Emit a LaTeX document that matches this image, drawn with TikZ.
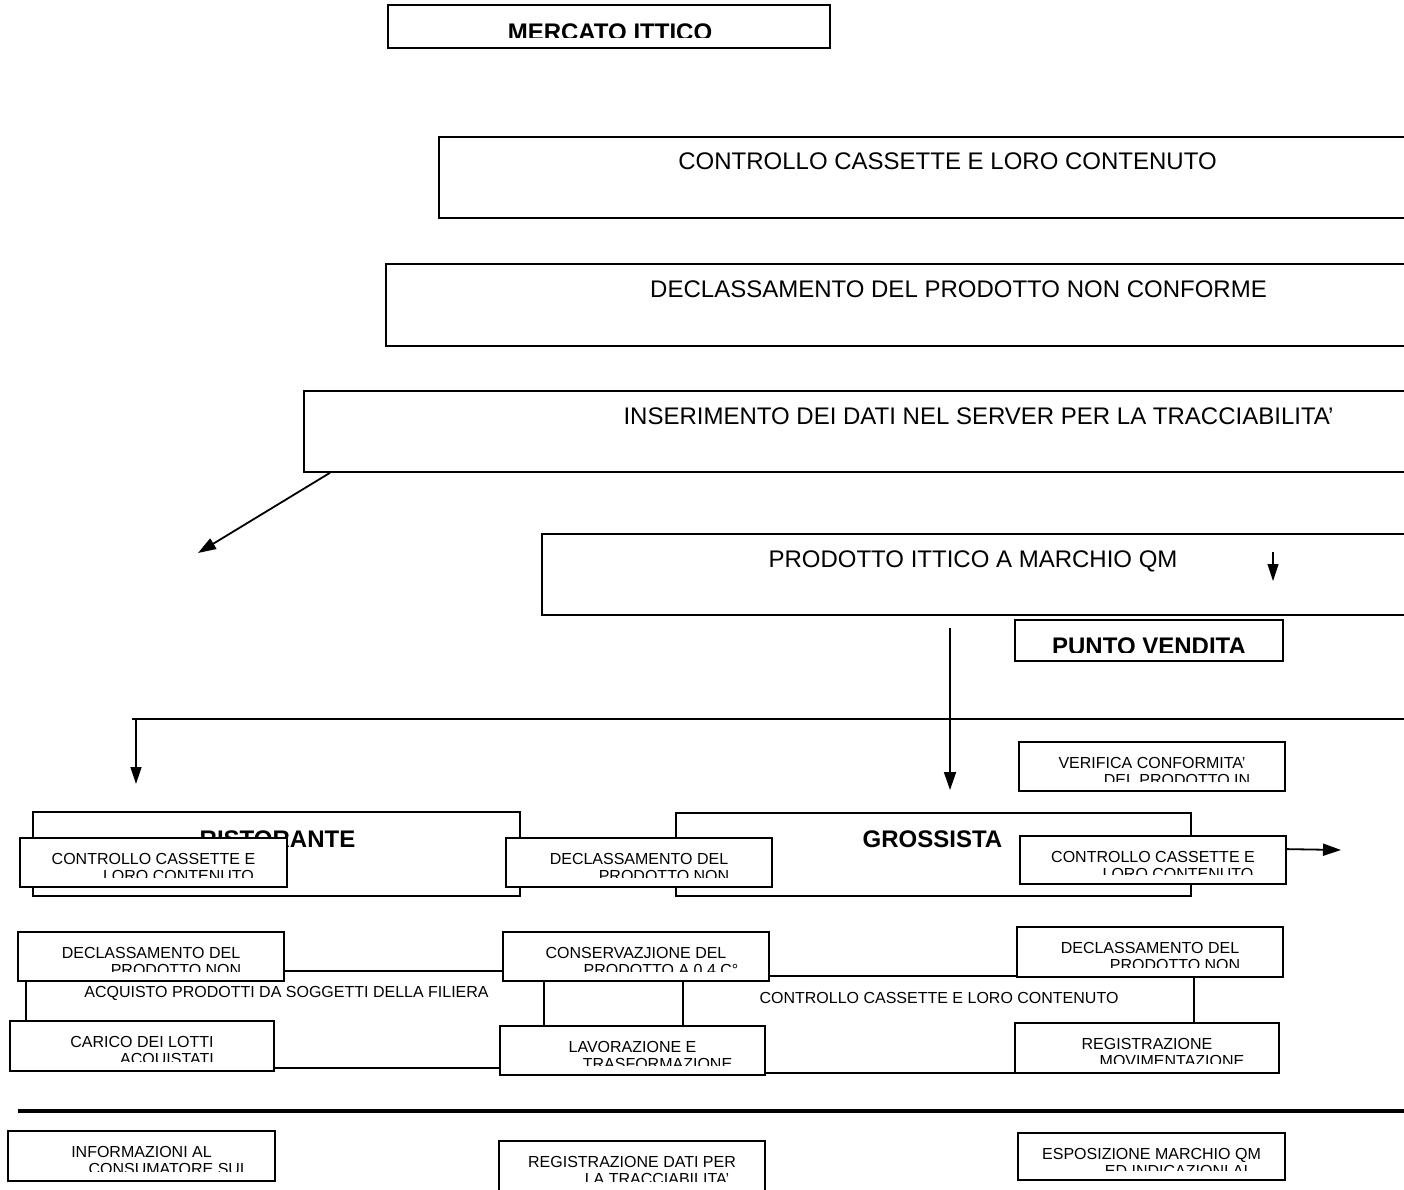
\documentclass[tikz,border=0pt]{standalone}
\usepackage{fontspec}
\setmainfont{Liberation Sans}
\usetikzlibrary{arrows.meta,calc}
\tikzset{
 bigbox/.style={draw, line width=1.8pt, fill=white, inner sep=0pt, anchor=north west},
 boxst/.style={draw, line width=1.8pt, fill=white, inner sep=0pt},
 bigtxt/.style={anchor=base, inner sep=0pt, font=\fontsize{24}{28}\selectfont},
 boldtxt/.style={anchor=base, inner sep=0pt, font=\fontsize{24}{28}\selectfont\bfseries},
 smtxt/.style={anchor=base, inner sep=0pt, font=\fontsize{16}{19}\selectfont},
 conn/.style={line width=1.8pt},
 arr/.style={line width=1.8pt, -{Triangle[length=18pt,width=12pt]}},
 thinarr/.style={line width=1.3pt, -{Triangle[length=17pt,width=11pt]}},
}
% name, x1, y1, x2, y2, line1, line2
\newcommand{\mybox}[7]{%
 \node[boxst, minimum width={(#4)-(#2)}, minimum height={(#5)-(#3)}] (#1) at ({((#2)+(#4))/2},{((#3)+(#5))/2}) {};
 \begin{scope}
 \clip (#2,#3) rectangle (#4,{(#5)-10});
 \node[smtxt] (#1a) at ({((#2)+(#4))/2},{(#3)+26.5}) {#6};
 \node[smtxt] (#1b) at ({((#2)+(#4))/2+25},{(#3)+43.5}) {#7};
 \end{scope}}
\begin{document}
\begin{tikzpicture}[x=1pt,y=-1pt]
\path[use as bounding box, clip] (0,0) rectangle (1404,1189);
\fill[white] (0,0) rectangle (1404,1189);

% MERCATO ITTICO
\node[boxst, minimum width=442, minimum height=43] (mer) at (609,26.5) {};
\begin{scope}
 \clip (388,5) rectangle (830,37.5);
 \node[boldtxt] (mert) at (610,40) {MERCATO ITTICO};
\end{scope}

% large open boxes
\node[bigbox, minimum width=972, minimum height=81] (cc) at (438,136) {};
\node[bigtxt] (cct) at (947.5,169) {CONTROLLO CASSETTE E LORO CONTENUTO};
\node[bigbox, minimum width=1025, minimum height=82] (dec) at (385,263) {};
\node[bigtxt] (dect) at (958.5,297) {DECLASSAMENTO DEL PRODOTTO NON CONFORME};
\node[bigbox, minimum width=1107, minimum height=81] (ins) at (303,390) {};
\node[bigtxt] (inst) at (978.5,424) {INSERIMENTO DEI DATI NEL SERVER PER LA TRACCIABILITA'};
\node[bigbox, minimum width=869, minimum height=81] (prod) at (541,533) {};
\node[bigtxt] (prodt) at (973,567) {PRODOTTO ITTICO A MARCHIO QM};

% diagonal arrow
\coordinate (diagtip) at (198,553);
\draw[arr] ($(ins.south west)+(27,0)$) -- (diagtip);

% small arrow
\coordinate (sa1) at (1273,552);
\coordinate (sa2) at (1273,581);
\draw[thinarr] (sa1) -- (sa2);

% PUNTO VENDITA
\node[boxst, minimum width=268, minimum height=41] (pv) at (1149,640.5) {};
\begin{scope}
 \clip (1015,620) rectangle (1283,652);
 \node[boldtxt] (pvt) at (1149,654) {PUNTO VENDITA};
\end{scope}

% horizontal line and arrows
\coordinate (hl1) at (132,719);
\coordinate (hl2) at (1404,719);
\draw[conn] (hl1) -- (hl2);
\coordinate (la1) at (136,719);
\coordinate (la2) at (136,784);
\draw[thinarr] (la1) -- (la2);
\coordinate (va1) at (950,628);
\coordinate (va2) at (950,790);
\draw[arr] (va1) -- (va2);

% VERIFICA
\mybox{ver}{1019}{742}{1285}{791}{VERIFICA CONFORMITA'}{DEL PRODOTTO IN}

% RISTORANTE / GROSSISTA
\node[boxst, minimum width=487, minimum height=84] (rist) at (276.5,854) {};
\node[boldtxt] (ristt) at (277.5,847) {RISTORANTE};
\node[boxst, minimum width=515, minimum height=83] (gros) at (933.5,854.5) {};
\node[boldtxt] (grost) at (932.5,847) {GROSSISTA};

% row A
\mybox{ccL}{20}{838}{287}{887}{CONTROLLO CASSETTE E}{LORO CONTENUTO}
\mybox{dM}{506}{838}{772}{887}{DECLASSAMENTO DEL}{PRODOTTO NON}
\mybox{ccR}{1020}{836}{1286}{884}{CONTROLLO CASSETTE E}{LORO CONTENUTO}
\coordinate (raTip) at (1341,850);
\draw[arr] ($(ccR.north east)+(0,14)$) -- (raTip);

% row B
\mybox{dL}{18}{932}{284}{981}{DECLASSAMENTO DEL}{PRODOTTO NON}
\mybox{cons}{503}{932}{769}{981}{CONSERVAZJIONE DEL}{PRODOTTO A 0 4 C°}
\mybox{dR}{1017}{927}{1283}{977}{DECLASSAMENTO DEL}{PRODOTTO NON}

% row C
\mybox{car}{10}{1021}{274}{1071}{CARICO DEI LOTTI}{ACQUISTATI}
\mybox{lav}{500}{1026}{765}{1075}{LAVORAZIONE E}{TRASFORMAZIONE}
\mybox{reg}{1015}{1023}{1279}{1073}{REGISTRAZIONE}{MOVIMENTAZIONE}

% connectors
\draw[conn] ($(dL.south east)+(0,-11)$) coordinate (c1) -- (c1 -| cons.west);
\draw[conn] ($(cons.south east)+(0,-6)$) coordinate (c2) -- (c2 -| dR.west);
\draw[conn] ($(car.south east)+(0,-4)$) coordinate (c3) -- (c3 -| lav.west);
\draw[conn] ($(lav.south east)+(0,-3)$) coordinate (c4) -- (c4 -| reg.west);
\draw[conn] ($(dL.south west)+(9,0)$) coordinate (v1) -- (v1 |- car.north);
\draw[conn] ($(cons.south west)+(42,0)$) coordinate (v2) -- (v2 |- lav.north);
\draw[conn] ($(cons.south west)+(181,0)$) coordinate (v3) -- (v3 |- lav.north);
\draw[conn] ($(dR.south west)+(178,0)$) coordinate (v4) -- (v4 |- reg.north);

% labels
\node[smtxt] (lab1) at (286.5,997) {ACQUISTO PRODOTTI DA SOGGETTI DELLA FILIERA};
\node[smtxt] (lab2) at (939,1003) {CONTROLLO CASSETTE E LORO CONTENUTO};

% thick line
\coordinate (tl1) at (18,1111);
\coordinate (tl2) at (1404,1111);
\draw[line width=3.2pt] (tl1) -- (tl2);

% row D
\mybox{inf}{8}{1131}{275}{1181}{INFORMAZIONI AL}{CONSUMATORE SUI}
\mybox{rdt}{499}{1141}{765}{1191}{REGISTRAZIONE DATI PER}{LA TRACCIABILITA'}
\mybox{esp}{1018}{1133}{1285}{1180}{ESPOSIZIONE MARCHIO QM}{ED INDICAZIONI AI}
\end{tikzpicture}
\end{document}
